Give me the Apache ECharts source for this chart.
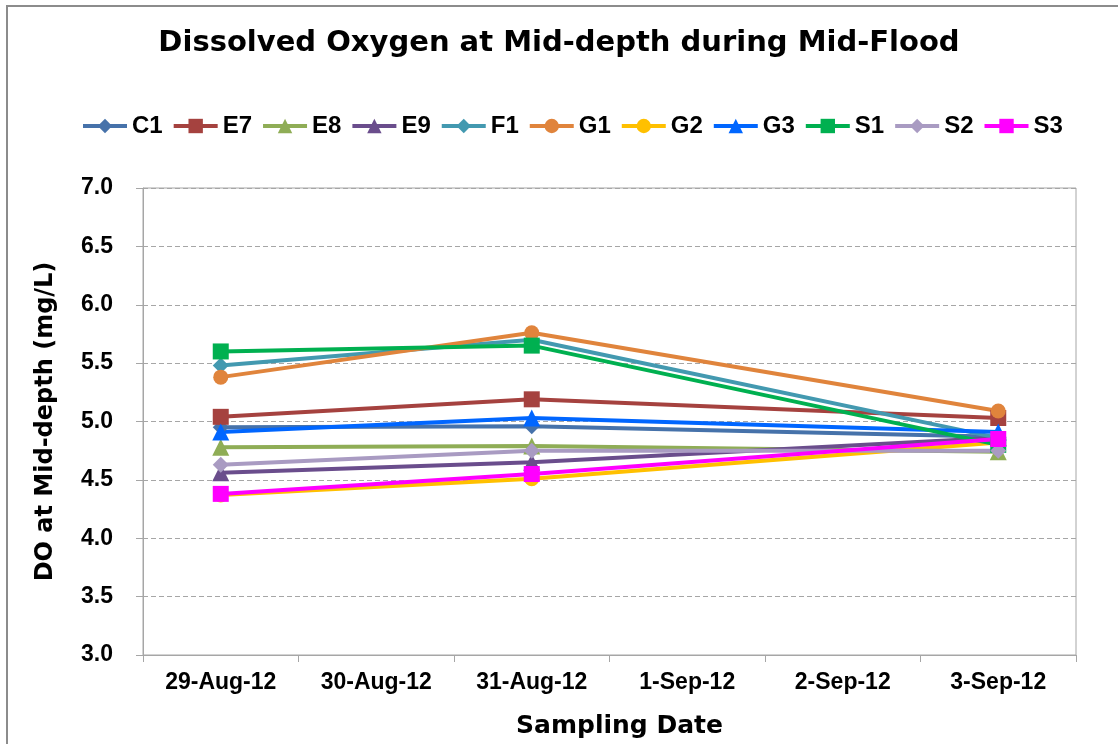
<!DOCTYPE html>
<html>
<head>
<meta charset="utf-8">
<script src="https://cdn.jsdelivr.net/npm/echarts@6/dist/echarts.min.js"></script>
<style>
  html, body { margin: 0; padding: 0; background: #fff; }
  #chart { width: 1118px; height: 744px; }
</style>
</head>
<body>
<div id="chart"></div>
<script>
// sampling dates (only three of them were sampled)
const dates = ["29-Aug-12", "30-Aug-12", "31-Aug-12", "1-Sep-12", "2-Sep-12", "3-Sep-12"];

const C1 = [4.95, null, 4.96, null, null, 4.87];
const E7 = [5.04, null, 5.19, null, null, 5.03];
const E8 = [4.78, null, 4.79, null, null, 4.74];
const E9 = [4.56, null, 4.65, null, null, 4.86];
const F1 = [5.48, null, 5.70, null, null, 4.86];
const G1 = [5.38, null, 5.76, null, null, 5.09];
const G2 = [4.37, null, 4.51, null, null, 4.82];
const G3 = [4.91, null, 5.03, null, null, 4.91];
const S1 = [5.60, null, 5.65, null, null, 4.80];
const S2 = [4.63, null, 4.75, null, null, 4.75];
const S3 = [4.38, null, 4.55, null, null, 4.85];

const yTicks = [3.0, 3.5, 4.0, 4.5, 5.0, 5.5, 6.0, 6.5, 7.0];

const stations = [
  { name: "C1", data: C1, color: "#4672AA", symbol: "diamond", size: 16 },
  { name: "E7", data: E7, color: "#A5423F", symbol: "rect", size: 16 },
  { name: "E8", data: E8, color: "#8FAD56", symbol: "triangle", size: 17 },
  { name: "E9", data: E9, color: "#6A4D8C", symbol: "triangle", size: 17 },
  { name: "F1", data: F1, color: "#4399B0", symbol: "diamond", size: 16 },
  { name: "G1", data: G1, color: "#E0843C", symbol: "circle", size: 15 },
  { name: "G2", data: G2, color: "#FFC000", symbol: "circle", size: 15 },
  { name: "G3", data: G3, color: "#0066FF", symbol: "triangle", size: 17 },
  { name: "S1", data: S1, color: "#00B050", symbol: "rect", size: 16 },
  { name: "S2", data: S2, color: "#A99BC2", symbol: "diamond", size: 16 },
  { name: "S3", data: S3, color: "#FF00FF", symbol: "rect", size: 16 }
];

const font = "'Liberation Sans', Arial, sans-serif";
const wide = "'DejaVu Sans', sans-serif";
const chart = echarts.init(document.getElementById("chart"));

chart.setOption({
  animation: false,
  backgroundColor: "#fff",
  graphic: [{
    type: "rect",
    shape: { x: 7, y: 6, width: 1200, height: 800 },
    style: { fill: "none", stroke: "#8C8C8C", lineWidth: 2 },
    silent: true
  }],
  title: {
    text: "Dissolved Oxygen at Mid-depth during Mid-Flood",
    left: "center",
    top: 24,
    textStyle: { fontFamily: wide, fontSize: 29, fontWeight: "bold", color: "#000" }
  },
  legend: {
    top: 109,
    left: 76,
    itemWidth: 44,
    itemHeight: 18,
    itemGap: 9,
    lineStyle: { width: 4 },
    textStyle: { fontFamily: font, fontSize: 24, fontWeight: "bold", color: "#000" },
    data: stations.map(s => s.name)
  },
  grid: {
    left: 143, right: 42, top: 188, bottom: 89,
    show: true, borderColor: "#A6A6A6", borderWidth: 1
  },
  xAxis: {
    type: "category",
    data: dates,
    boundaryGap: true,
    name: "Sampling Date",
    nameLocation: "middle",
    nameGap: 59,
    nameTextStyle: { fontFamily: wide, fontSize: 25, fontWeight: "bold", color: "#000", padding: [0, 0, 0, 20] },
    axisLine: { lineStyle: { color: "#A6A6A6", width: 1 } },
    axisTick: { show: true, interval: 0, length: 7, lineStyle: { color: "#A6A6A6" } },
    axisLabel: { interval: 0, margin: 16, fontFamily: font, fontSize: 23, fontWeight: "bold", color: "#000" }
  },
  yAxis: {
    type: "value",
    min: yTicks[0],
    max: yTicks[yTicks.length - 1],
    interval: 0.5,
    name: "DO at Mid-depth (mg/L)",
    nameLocation: "middle",
    nameGap: 85,
    nameTextStyle: { fontFamily: wide, fontSize: 24, fontWeight: "bold", color: "#000" },
    axisLine: { show: true, lineStyle: { color: "#A6A6A6", width: 1 } },
    axisTick: { show: true, length: 7, lineStyle: { color: "#A6A6A6" } },
    axisLabel: {
      margin: 30,
      fontFamily: font, fontSize: 23, fontWeight: "bold", color: "#000",
      formatter: v => v.toFixed(1)
    },
    splitLine: { show: true, lineStyle: { color: "#A6A6A6", type: [5, 3], width: 1 } }
  },
  series: stations.map(s => ({
    name: s.name,
    type: "line",
    data: s.data,
    connectNulls: true,
    symbol: s.symbol,
    symbolSize: s.size,
    showAllSymbol: true,
    color: s.color,
    lineStyle: { color: s.color, width: 4 },
    itemStyle: { color: s.color, borderWidth: 0 }
  }))
});
</script>
</body>
</html>
